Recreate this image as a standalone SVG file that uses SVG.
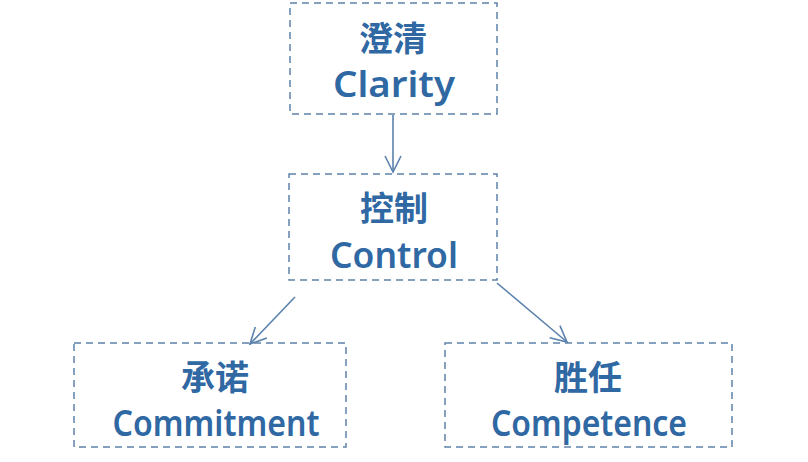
<svg xmlns="http://www.w3.org/2000/svg" width="808" height="462" viewBox="0 0 808 462">
<defs>
<marker id="ah" viewBox="0 0 20 20" refX="18" refY="10" markerWidth="20" markerHeight="20" markerUnits="userSpaceOnUse" orient="auto">
<path d="M2,2 L18,10 L2,18" fill="none" stroke="#5a82ad" stroke-width="1.6"/>
</marker>
<style>
.box{fill:none;stroke:#5f82a8;stroke-width:1.5;stroke-dasharray:7 5}
.cn{font-family:"Noto Sans CJK SC",sans-serif;font-weight:bold;font-size:34px;fill:#2f68a3;text-anchor:middle}
.en{font-family:"Noto Sans","DejaVu Sans",sans-serif;font-weight:600;font-size:36px;fill:#2f68a3;text-anchor:middle}
.ln{stroke:#5a82ad;stroke-width:1.6;fill:none;marker-end:url(#ah)}
</style>
</defs>
<rect width="808" height="462" fill="#ffffff"/>
<g id="connectors">
<line class="ln" x1="393" y1="115" x2="393" y2="172"/>
<line class="ln" x1="295" y1="297" x2="250" y2="344"/>
<line class="ln" x1="497" y1="283" x2="567" y2="342"/>
</g>
<g id="clarity">
<rect class="box" x="290" y="3" width="207" height="111"/>
<text class="cn" x="393" y="51">澄清</text>
<text class="en" x="394" y="97" textLength="122" lengthAdjust="spacingAndGlyphs">Clarity</text>
</g>
<g id="control">
<rect class="box" x="289" y="174" width="208" height="106"/>
<text class="cn" x="394" y="221">控制</text>
<text class="en" x="394" y="268" textLength="128" lengthAdjust="spacingAndGlyphs">Control</text>
</g>
<g id="commitment">
<rect class="box" x="74" y="343" width="272" height="104"/>
<text class="cn" x="215" y="390">承诺</text>
<text class="en" x="216" y="436" textLength="207" lengthAdjust="spacingAndGlyphs">Commitment</text>
</g>
<g id="competence">
<rect class="box" x="445" y="343" width="287" height="104"/>
<text class="cn" x="588" y="390">胜任</text>
<text class="en" x="589" y="436" textLength="196" lengthAdjust="spacingAndGlyphs">Competence</text>
</g>
</svg>
